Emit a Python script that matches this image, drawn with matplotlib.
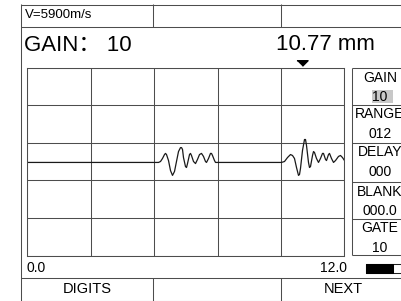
import matplotlib
matplotlib.use("Agg")
import matplotlib.pyplot as plt
from matplotlib.patches import Rectangle
from matplotlib import transforms

# ---------------- data ----------------
velocity_label = "V=5900m/s"
gain_value = "10"
thickness_label = "10.77 mm"
range_start = 0.0
range_end = 12.0
marker_mm = 10.41

# A-scan trace: depth (mm) and amplitude (% of screen height)
x_mm = [0.0,
        4.808, 4.959, 5.035, 5.110, 5.186, 5.224, 5.262, 5.338, 5.413, 5.489, 5.565,
        5.640, 5.716, 5.792, 5.830, 5.868, 5.905, 5.981, 6.019, 6.057, 6.133, 6.170,
        6.208, 6.284, 6.360, 6.435, 6.511, 6.587, 6.662, 6.738, 6.776, 6.852, 6.927,
        6.965, 7.003, 7.079, 7.117, 7.230,
        9.615, 9.729, 9.842, 9.956, 10.032, 10.107, 10.183, 10.259, 10.297, 10.334,
        10.410, 10.486, 10.524, 10.562, 10.637, 10.675, 10.713, 10.789, 10.827,
        10.864, 10.940, 11.016, 11.091, 11.167, 11.205, 11.281, 11.318, 11.394,
        11.432, 11.508, 11.584, 11.659, 11.773, 11.849, 11.924, 12.0]
amp = [49.5,
       49.5, 49.5, 50.0, 51.6, 53.7, 54.3, 53.7, 50.5, 45.2, 42.6, 44.7,
       50.0, 55.3, 57.4, 57.4, 56.4, 52.1, 47.3, 46.8, 48.9, 53.7, 54.3,
       53.2, 50.0, 48.9, 51.1, 53.7, 54.3, 52.7, 50.0, 49.5, 51.6, 54.3,
       54.3, 53.2, 50.5, 49.5, 49.5,
       49.5, 50.0, 52.1, 53.7, 53.2, 51.6, 46.8, 42.6, 43.1, 46.3,
       55.9, 61.7, 61.7, 58.5, 49.5, 46.8, 47.3, 53.2, 55.3,
       54.8, 51.6, 49.5, 51.6, 54.3, 54.3, 51.1, 50.5, 53.7,
       54.3, 51.6, 49.5, 50.5, 52.7, 53.2, 52.1, 50.5]

menu_labels = ["GAIN", "RANGE", "DELAY", "BLANK", "GATE"]
menu_values = ["10", "012", "000", "000.0", "10"]
soft_keys = ["DIGITS", "", "NEXT"]

# ---------------- layout ----------------
W, H = 402, 301
DPI = 100
LC = "#4d4d4d"
LW = 0.75
FONT = "Liberation Sans"

fig = plt.figure(figsize=(W / DPI, H / DPI), dpi=DPI)
fig.patch.set_facecolor("white")

ov = fig.add_axes([0, 0, 1, 1])
ov.set_xlim(0, W)
ov.set_ylim(H, 0)
ov.axis("off")

def hline(y, x0, x1):
    ov.plot([x0, x1], [y, y], color=LC, lw=LW, solid_capstyle="butt")

def vline(x, y0, y1):
    ov.plot([x, x], [y0, y1], color=LC, lw=LW, solid_capstyle="butt")

# outer frame and header
hline(4.5, 21, W + 5)
vline(21.5, 4, 300.5)
hline(26.5, 21, W + 5)
vline(153.5, 4, 26.5)
vline(281.5, 4, 26.5)
# bottom soft-key row
hline(277.5, 21, W + 5)
hline(300.5, 21, W + 5)
vline(153.5, 277.5, 300.5)
vline(281.5, 277.5, 300.5)

ov.text(25, 15.5, velocity_label, fontsize=9.5, family=FONT, va="center", ha="left")
ov.text(24, 45, "GAIN：" + " " + gain_value, fontsize=16,
        family=[FONT, "Noto Sans CJK SC"], va="center", ha="left")
ov.text(276, 45, thickness_label, fontsize=16, family=FONT, va="center", ha="left")

# side menu
row_tops = [67.5, 104.5, 142.5, 181.5, 218.5, 254.5]
vline(352.5, 67.5, 254.5)
for yt in row_tops:
    hline(yt, 352.5, W + 5)
ov.add_patch(Rectangle((372, 90), 21, 13, facecolor="#c8c8c8", edgecolor="none"))
for i, (lab, val) in enumerate(zip(menu_labels, menu_values)):
    yt = row_tops[i]
    ov.text(380, yt + 10, lab, fontsize=10, family=FONT, ha="center", va="center")
    ov.text(380, yt + 29.5, val, fontsize=10, family=FONT, ha="center", va="center")

# range labels and bar
ov.text(27, 268, f"{range_start:.1f}", fontsize=10, family=FONT, ha="left", va="center")
ov.text(347, 268, f"{range_end:.1f}", fontsize=10, family=FONT, ha="right", va="center")
ov.add_patch(Rectangle((366.5, 263.5), 40, 9, facecolor="white", edgecolor="#222222", lw=LW))
ov.add_patch(Rectangle((366.5, 263.5), 27, 9, facecolor="black", edgecolor="black", lw=LW))

# soft keys
key_centers = [87, 217, 343]
for k, c in zip(soft_keys, key_centers):
    if k:
        ov.text(c, 289, k, fontsize=10.5, family=FONT, ha="center", va="center")

# ---------------- A-scan ----------------
left, right, top, bottom = 27.5, 344.5, 67.5, 255.5
ax = fig.add_axes([left / W, (H - bottom) / H, (right - left) / W, (bottom - top) / H])
ax.set_facecolor("none")
ax.set_xlim(range_start, range_end)
ax.set_ylim(0, 100)
ax.set_xticks([range_start + (range_end - range_start) * i / 5 for i in range(6)])
ax.set_yticks([0, 20, 40, 60, 80, 100])
ax.grid(True, color=LC, lw=LW)
ax.tick_params(length=0, labelbottom=False, labelleft=False)
for s in ax.spines.values():
    s.set_color(LC)
    s.set_linewidth(LW)

ax.plot(x_mm, amp, color="#1a1a1a", lw=0.9, solid_joinstyle="round")

tri = [(-1, 0.5), (1, 0.5), (0, -0.5)]
off = transforms.offset_copy(ax.transData, fig=fig, x=0, y=5, units="dots")
ax.plot([marker_mm], [100], marker=tri, ms=8, color="black", transform=off, clip_on=False)

fig.savefig("out.png", dpi=DPI, facecolor="white")
